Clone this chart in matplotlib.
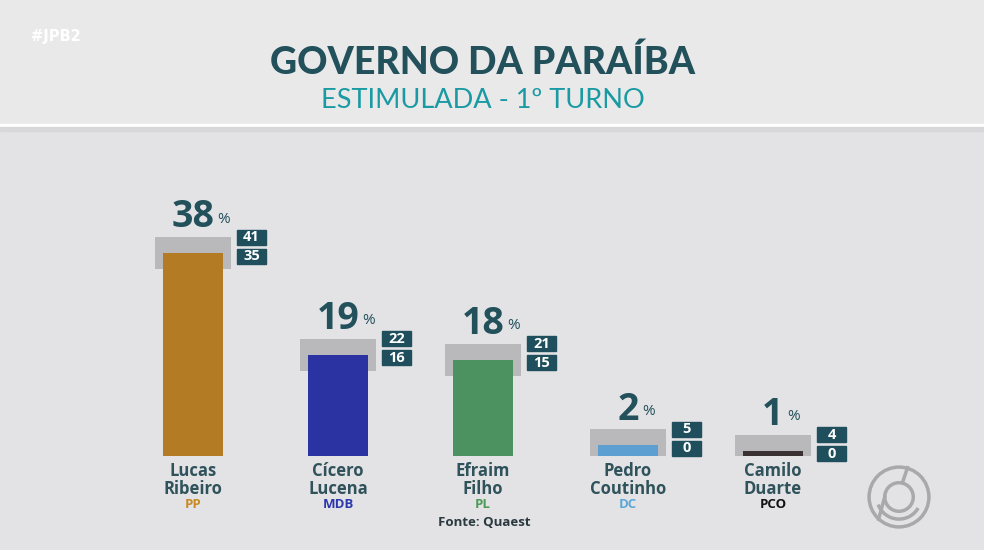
import numpy as np
import matplotlib.pyplot as plt
from matplotlib.patches import Rectangle, Circle, Arc

# dados da pesquisa
candidatos = ['Lucas\nRibeiro', 'Cícero\nLucena', 'Efraim\nFilho', 'Pedro\nCoutinho', 'Camilo\nDuarte']
partidos = ['PP', 'MDB', 'PL', 'DC', 'PCO']
votos = [38, 19, 18, 2, 1]
maximo = [41, 22, 21, 5, 4]
minimo = [35, 16, 15, 0, 0]

cores_barra = ['#b27b24', '#2b33a3', '#4c9160', '#5c9fd0', '#3a3232']
cores_partido = ['#c88a22', '#2a37ad', '#4c9a58', '#5aa8d8', '#111111']

teal = '#22505b'
bg = '#e3e3e5'

fig = plt.figure(figsize=(9.84, 5.5), dpi=100, facecolor=bg)

# faixa do topo um pouco mais clara
fig.patches.append(Rectangle((0, (550-125)/550), 1, 125/550, transform=fig.transFigure,
                             color='#e9e9ea', zorder=-2))
# linha branca
fig.patches.append(Rectangle((0, (550-127)/550), 1, 3/550, transform=fig.transFigure,
                             color='white', zorder=-1))
fig.patches.append(Rectangle((0, (550-131)/550), 1, 4/550, transform=fig.transFigure,
                             color='#d8d8da', zorder=-1))

fig.text(0.032, 1-37/550, '#JPB2', color='white', fontsize=10.5, fontweight='bold',
         va='center', ha='left', family='DejaVu Sans Condensed')
fig.text(483/984, 1-62/550, 'GOVERNO DA PARAÍBA', color=teal, fontsize=27,
         fontweight='black', ha='center', va='center', family='Lato')
fig.text(483/984, 1-101/550, 'ESTIMULADA - 1º TURNO', color='#1a9aa3', fontsize=19.5,
         ha='center', va='center', family='Lato')

# eixo principal: 5.34 px por ponto percentual, base em y=456 px
px = 5.34
ax = fig.add_axes([0, (550-456)/550, 1, 60*px/550])
ax.set_facecolor('none')
ax.set_xlim(-193/145, (984-193)/145)
ax.set_ylim(0, 60)
ax.axis('off')

x = np.arange(len(votos))
lo = np.array(minimo)
hi = np.array(maximo)

ax.bar(x, hi-lo, bottom=lo, width=0.53, color='#b9b9bb', zorder=1)
ax.bar(x, votos, width=0.42, color=cores_barra, zorder=2)

bh = 15/px
gap = 4/px
for i in range(len(votos)):
    # valor
    ax.annotate(str(votos[i]), (x[i], hi[i]), xytext=(0, 0.5), textcoords='offset points',
                ha='center', va='bottom', fontsize=27, fontweight='bold', color=teal,
                family='Open Sans')
    nd = len(str(votos[i]))
    ax.annotate('%', (x[i], hi[i]), xytext=(8 + 7*nd, 13), textcoords='offset points',
                ha='center', va='center', fontsize=11, color=teal, family='Open Sans')
    # caixas max/min
    x0 = x[i] + 44/145
    w = 29/145
    top_c = hi[i]
    ax.add_patch(Rectangle((x0, top_c - bh/2), w, bh, color='#1f4f5c', zorder=3,
                           clip_on=False))
    ax.text(x0 + w/2, top_c, str(maximo[i]), color='white', fontsize=10.5, fontweight='bold',
            ha='center', va='center', zorder=4, family='Open Sans')
    y2 = top_c - bh/2 - gap - bh
    ax.add_patch(Rectangle((x0, y2), w, bh, color='#1f4f5c', zorder=3, clip_on=False))
    ax.text(x0 + w/2, y2 + bh/2, str(minimo[i]), color='white', fontsize=10.5,
            fontweight='bold', ha='center', va='center', zorder=4, family='Open Sans',
            clip_on=False)
    # nomes
    ax.annotate(candidatos[i], (x[i], 0), xytext=(0, -4), textcoords='offset points',
                ha='center', va='top', fontsize=12, fontweight='bold', color='#2f525b',
                family='Open Sans', linespacing=1.05, annotation_clip=False)
    ax.annotate(partidos[i], (x[i], 0), xytext=(0, -30), textcoords='offset points',
                ha='center', va='top', fontsize=9.5, fontweight='bold', color=cores_partido[i],
                family='Open Sans', annotation_clip=False)

fig.text(484/984, 1-523/550, 'Fonte: Quaest', color='#2a3a40', fontsize=9.5,
         fontweight='bold', ha='center', va='center', family='Open Sans')

# logo
lx, ly = 899/984, 1-497/550
logo = fig.add_axes([lx-34/984, ly-34/550, 68/984, 68/550])
logo.set_xlim(-1, 1)
logo.set_ylim(-1, 1)
logo.set_aspect('equal')
logo.axis('off')
logo.add_patch(Circle((0, 0), 0.88, fill=False, lw=2.5, ec='#a9a9ab'))
logo.add_patch(Circle((0, 0), 0.42, fill=False, lw=2.5, ec='#a9a9ab'))
logo.add_patch(Arc((0, 0), 1.3, 1.3, theta1=200, theta2=330, lw=2.5, ec='#a9a9ab'))
logo.plot([-0.42, -0.6], [0.0, -0.65], color='#a9a9ab', lw=2.5)
logo.plot([0.1, 0.25], [0.42, 0.86], color='#a9a9ab', lw=2.5)

fig.savefig('out.png', dpi=100, facecolor=bg)
